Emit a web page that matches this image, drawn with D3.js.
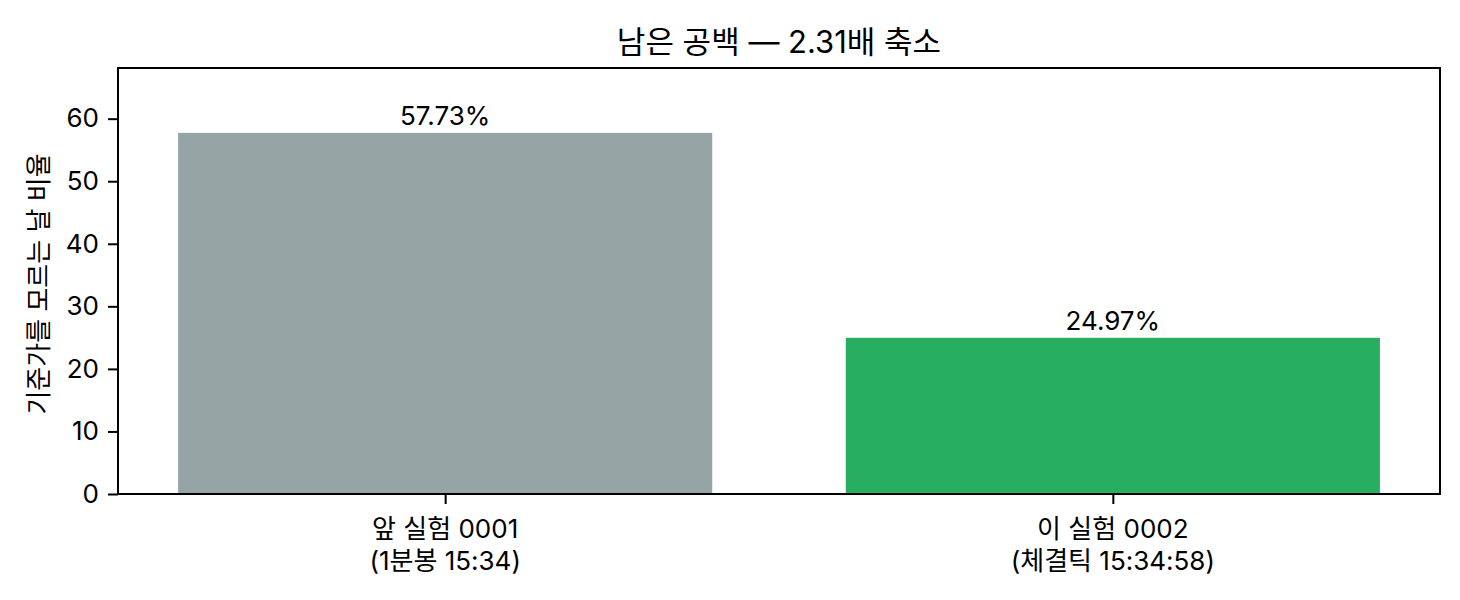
<!DOCTYPE html>
<html><head><meta charset="utf-8">
<script src="https://cdn.jsdelivr.net/npm/d3@7"></script>
<style>
html,body{margin:0;padding:0;background:#fff;}
svg{display:block;font-family:Inter,"Noto Sans CJK KR",sans-serif;}
</style></head>
<body><svg id="c" width="1460" height="600"></svg>
<script>
const categories = ["앞 실험 0001\n(1분봉 15:34)", "이 실험 0002\n(체결틱 15:34:58)"];
const values = [57.73, 24.97];
const barLabels = ["57.73%", "24.97%"];
const colors = ["#95a5a6", "#27ae60"];
const yTicks = [0, 10, 20, 30, 40, 50, 60];
const title = "남은 공백 — 2.31배 축소";
const yLabel = "기준가를 모르는 날 비율";

const svg = d3.select("#c");
const L = 118, R = 1440, T = 68, B = 494;
const FONT = 26;
const x = d3.scaleLinear().domain([-0.49, 1.49]).range([L, R]);
const y = d3.scaleLinear().domain([0, 68.1]).range([B, T]);
const bw = x(0.8) - x(0);

svg.selectAll("rect.bar").data(values).join("rect")
  .attr("class", "bar")
  .attr("x", (d, i) => x(i - 0.4)).attr("width", bw)
  .attr("y", d => y(d)).attr("height", d => y(0) - y(d))
  .attr("fill", (d, i) => colors[i]);

svg.selectAll("text.bl").data(values).join("text")
  .attr("class", "bl")
  .attr("x", (d, i) => x(i)).attr("y", d => y(d) - 8)
  .attr("text-anchor", "middle").attr("font-size", FONT).attr("fill", "#000")
  .text((d, i) => barLabels[i]);

// y axis
const ya = svg.append("g").attr("transform", `translate(${L},0)`)
  .call(d3.axisLeft(y).tickValues(yTicks).tickSize(10).tickPadding(9));
ya.select(".domain").remove();
ya.selectAll("text").attr("font-size", FONT).attr("fill", "#000").attr("font-family", "Inter,'Noto Sans CJK KR',sans-serif");
ya.selectAll("line").attr("stroke", "#000").attr("stroke-width", 2);

// x axis
const xa = svg.append("g").attr("transform", `translate(0,${B})`)
  .call(d3.axisBottom(x).tickValues([0, 1]).tickSize(10).tickFormat(""));
xa.select(".domain").remove();
xa.selectAll("line").attr("stroke", "#000").attr("stroke-width", 2);
const xl = svg.selectAll("text.xl").data(categories).join("text")
  .attr("class", "xl").attr("text-anchor", "middle").attr("font-size", FONT).attr("fill", "#000");
xl.each(function(d, i) {
  const lines = d.split("\n");
  d3.select(this).selectAll("tspan").data(lines).join("tspan")
    .attr("x", x(i)).attr("y", (l, j) => 538 + j * 32).text(l => l);
});

// frame
svg.append("rect").attr("x", L).attr("y", T).attr("width", R - L).attr("height", B - T)
  .attr("fill", "none").attr("stroke", "#000").attr("stroke-width", 2);

svg.append("text").attr("x", (L + R) / 2).attr("y", 53).attr("text-anchor", "middle")
  .attr("font-size", 31).attr("fill", "#000").text(title);

svg.append("text").attr("transform", `translate(38,${(T + B) / 2 + 3}) rotate(-90)`)
  .attr("text-anchor", "middle").attr("dominant-baseline", "central")
  .attr("font-size", FONT).attr("fill", "#000").text(yLabel);
</script></body></html>
